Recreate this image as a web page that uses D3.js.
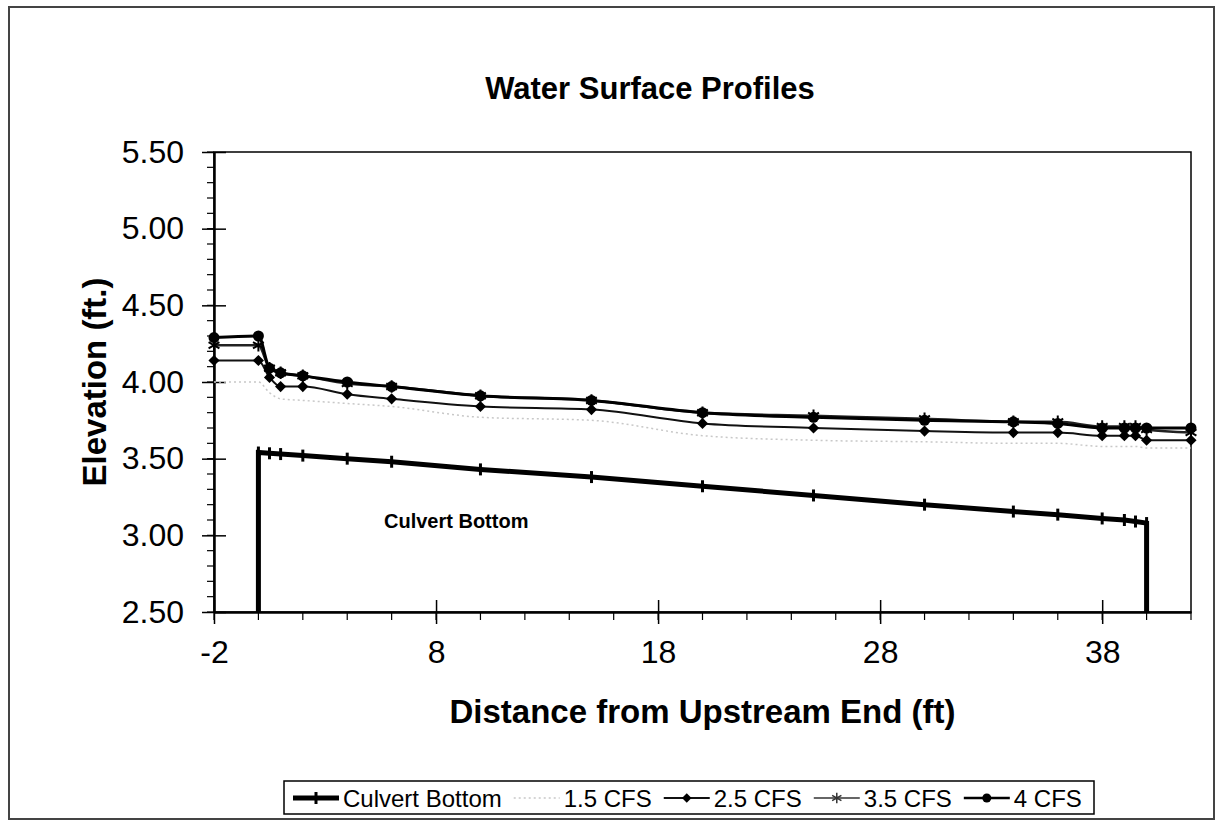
<!DOCTYPE html>
<html>
<head>
<meta charset="utf-8">
<script src="https://cdn.jsdelivr.net/npm/d3@7"></script>
<style>
  body { margin: 0; background: #fff; }
  svg { display: block; font-family: "Liberation Sans", Arial, sans-serif; }
</style>
</head>
<body>
<svg id="chart" width="1221" height="825"></svg>
<script>

// stations along the culvert (ft from upstream end)
var stations = [-2, 0, 0.5, 1, 2, 4, 6, 10, 15, 20, 25, 30, 34, 36, 38, 39, 39.5, 40, 42];

// culvert invert, incl. the vertical drops at both ends
var culvertX = [0, 0, 0.5, 1, 2, 4, 6, 10, 15, 20, 25, 30, 34, 36, 38, 39, 39.5, 40, 40];
var culvertY = [2.5, 3.54, 3.535, 3.53, 3.52, 3.50, 3.48, 3.43, 3.38, 3.32, 3.26, 3.20, 3.155, 3.135, 3.11, 3.10, 3.09, 3.08, 2.5];

var cfs15 = [4.00, 4.00, 3.93, 3.89, 3.88, 3.86, 3.84, 3.77, 3.75, 3.65, 3.62, 3.61, 3.60, 3.60, 3.58, 3.58, 3.58, 3.57, 3.57];
var cfs25 = [4.14, 4.14, 4.03, 3.97, 3.97, 3.92, 3.89, 3.84, 3.82, 3.73, 3.70, 3.68, 3.67, 3.67, 3.65, 3.65, 3.65, 3.62, 3.62];
var cfs35 = [4.24, 4.24, 4.09, 4.06, 4.04, 3.99, 3.97, 3.91, 3.88, 3.80, 3.78, 3.76, 3.74, 3.74, 3.71, 3.71, 3.71, 3.69, 3.67];
var cfs40 = [4.29, 4.30, 4.09, 4.06, 4.04, 4.00, 3.97, 3.91, 3.88, 3.80, 3.77, 3.75, 3.74, 3.73, 3.70, 3.70, 3.70, 3.70, 3.70];

var xTicks = [-2, 8, 18, 28, 38];
var yTicks = [2.5, 3.0, 3.5, 4.0, 4.5, 5.0, 5.5];
var legendNames = ["Culvert Bottom", "1.5 CFS", "2.5 CFS", "3.5 CFS", "4 CFS"];

var svg = d3.select("#chart");

// outer chart frame
svg.append("rect")
  .attr("x", 9).attr("y", 7).attr("width", 1205).attr("height", 812)
  .attr("fill", "none").attr("stroke", "#444").attr("stroke-width", 2);

var plotL = 214, plotR = 1191, plotT = 152, plotB = 612;

var x = d3.scaleLinear().domain([-2, 42]).range([plotL, plotR]);
var y = d3.scaleLinear().domain([2.5, 5.5]).range([plotB, plotT]);

// plot frame
svg.append("rect")
  .attr("x", plotL).attr("y", plotT).attr("width", plotR - plotL).attr("height", plotB - plotT)
  .attr("fill", "none").attr("stroke", "#000").attr("stroke-width", 1.5);

// y axis with minor ticks
var yMinor = d3.range(25, 56).map(function (d) { return d / 10; });
svg.append("g").selectAll("line").data(yMinor).enter().append("line")
  .attr("x1", plotL - 7).attr("x2", plotL)
  .attr("y1", function (d) { return y(d); }).attr("y2", function (d) { return y(d); })
  .attr("stroke", "#000").attr("stroke-width", 1.2);

var yAxis = svg.append("g")
  .attr("transform", "translate(" + plotL + ",0)")
  .call(d3.axisLeft(y).tickValues(yTicks).tickFormat(d3.format(".2f")).tickSizeInner(12).tickSizeOuter(0).tickPadding(18));
yAxis.select(".domain").attr("stroke-width", 2.5);
yAxis.selectAll(".tick line").attr("x2", 12).attr("x1", -12).attr("stroke-width", 1.5);
yAxis.selectAll("text").attr("font-size", 32).attr("fill", "#000")
  .attr("font-family", "Liberation Sans, Arial, sans-serif");

// x axis with minor ticks
var xMinor = d3.range(-2, 43, 2);
svg.append("g").selectAll("line").data(xMinor).enter().append("line")
  .attr("x1", function (d) { return x(d); }).attr("x2", function (d) { return x(d); })
  .attr("y1", plotB).attr("y2", plotB + 8)
  .attr("stroke", "#000").attr("stroke-width", 1.2);

var xAxis = svg.append("g")
  .attr("transform", "translate(0," + plotB + ")")
  .call(d3.axisBottom(x).tickValues(xTicks).tickFormat(function (d) { return String(d); })
    .tickSizeInner(12).tickSizeOuter(0).tickPadding(16));
xAxis.select(".domain").attr("stroke-width", 2.5);
xAxis.selectAll(".tick line").attr("y1", -12).attr("y2", 12).attr("stroke-width", 1.5);
xAxis.selectAll("text").attr("font-size", 32).attr("fill", "#000")
  .attr("font-family", "Liberation Sans, Arial, sans-serif");

// titles
svg.append("text").attr("x", 650).attr("y", 99).attr("text-anchor", "middle")
  .attr("font-size", 31).attr("font-weight", "bold").text("Water Surface Profiles");

svg.append("text").attr("x", (plotL + plotR) / 2).attr("y", 723).attr("text-anchor", "middle")
  .attr("font-size", 33).attr("font-weight", "bold").text("Distance from Upstream End (ft)");

svg.append("text")
  .attr("transform", "translate(106," + ((plotT + plotB) / 2) + ") rotate(-90)")
  .attr("text-anchor", "middle")
  .attr("font-size", 33).attr("font-weight", "bold").text("Elevation (ft.)");

// water surfaces are smoothed, culvert is straight segments
var smooth = d3.line()
  .curve(d3.curveMonotoneX)
  .x(function (d) { return x(d[0]); })
  .y(function (d) { return y(d[1]); });
var line = d3.line()
  .x(function (d) { return x(d[0]); })
  .y(function (d) { return y(d[1]); });

function pairs(xs, ys) { return xs.map(function (v, i) { return [v, ys[i]]; }); }

// square turned 45 deg, like the spreadsheet diamond
var diamond = d3.symbol(d3.symbolSquare, 62);

// 1.5 CFS, faint gray dotted
svg.append("path").datum(pairs(stations, cfs15)).attr("d", smooth)
  .attr("fill", "none").attr("stroke", "#c8c8c8").attr("stroke-width", 1.5)
  .attr("stroke-dasharray", "2,3");

// 2.5 CFS, diamonds
svg.append("path").datum(pairs(stations, cfs25)).attr("d", smooth)
  .attr("fill", "none").attr("stroke", "#111").attr("stroke-width", 2);
svg.append("g").selectAll("path").data(pairs(stations, cfs25)).enter().append("path")
  .attr("d", diamond)
  .attr("transform", function (d) { return "translate(" + x(d[0]) + "," + y(d[1]) + ") rotate(45)"; })
  .attr("fill", "#000");

// 3.5 CFS, asterisks
svg.append("path").datum(pairs(stations, cfs35)).attr("d", smooth)
  .attr("fill", "none").attr("stroke", "#222").attr("stroke-width", 2.5);
svg.append("g").selectAll("path").data(pairs(stations, cfs35)).enter().append("path")
  .attr("d", d3.symbol(d3.symbolAsterisk, 110))
  .attr("transform", function (d) { return "translate(" + x(d[0]) + "," + y(d[1]) + ")"; })
  .attr("fill", "none").attr("stroke", "#000").attr("stroke-width", 2);

// 4 CFS, circles
svg.append("path").datum(pairs(stations, cfs40)).attr("d", smooth)
  .attr("fill", "none").attr("stroke", "#000").attr("stroke-width", 3);
svg.append("g").selectAll("circle").data(pairs(stations, cfs40)).enter().append("circle")
  .attr("cx", function (d) { return x(d[0]); }).attr("cy", function (d) { return y(d[1]); })
  .attr("r", 5.5).attr("fill", "#000");

// culvert bottom, thick
svg.append("path").datum(pairs(culvertX, culvertY)).attr("d", line)
  .attr("fill", "none").attr("stroke", "#000").attr("stroke-width", 5);
svg.append("g").selectAll("line").data(pairs(culvertX, culvertY).filter(function (d) { return d[1] > 2.5; }))
  .enter().append("line")
  .attr("x1", function (d) { return x(d[0]); }).attr("x2", function (d) { return x(d[0]); })
  .attr("y1", function (d) { return y(d[1]) - 6; }).attr("y2", function (d) { return y(d[1]) + 6; })
  .attr("stroke", "#000").attr("stroke-width", 3);

svg.append("text").attr("x", 384).attr("y", 528)
  .attr("font-size", 20).attr("font-weight", "bold").text("Culvert Bottom");

// legend
var lg = svg.append("g");
lg.append("rect").attr("x", 284).attr("y", 781).attr("width", 810).attr("height", 33)
  .attr("fill", "#fff").attr("stroke", "#000").attr("stroke-width", 1.5);

var lx = 293, ly = 798;
legendNames.forEach(function (name, i) {
  var sx0 = lx, sx1 = lx + 46, mx = lx + 23;
  if (i === 0) {
    lg.append("line").attr("x1", sx0).attr("x2", sx1).attr("y1", ly).attr("y2", ly)
      .attr("stroke", "#000").attr("stroke-width", 5);
    lg.append("line").attr("x1", mx).attr("x2", mx).attr("y1", ly - 6).attr("y2", ly + 6)
      .attr("stroke", "#000").attr("stroke-width", 3);
  } else if (i === 1) {
    lg.append("line").attr("x1", sx0).attr("x2", sx1).attr("y1", ly).attr("y2", ly)
      .attr("stroke", "#c8c8c8").attr("stroke-width", 1.5).attr("stroke-dasharray", "2,3");
  } else if (i === 2) {
    lg.append("line").attr("x1", sx0).attr("x2", sx1).attr("y1", ly).attr("y2", ly)
      .attr("stroke", "#111").attr("stroke-width", 2);
    lg.append("path").attr("d", d3.symbol(d3.symbolSquare, 45))
      .attr("transform", "translate(" + mx + "," + ly + ") rotate(45)").attr("fill", "#000");
  } else if (i === 3) {
    lg.append("line").attr("x1", sx0).attr("x2", sx1).attr("y1", ly).attr("y2", ly)
      .attr("stroke", "#666").attr("stroke-width", 2);
    lg.append("path").attr("d", d3.symbol(d3.symbolAsterisk, 80))
      .attr("transform", "translate(" + mx + "," + ly + ")")
      .attr("fill", "none").attr("stroke", "#333").attr("stroke-width", 1.5);
  } else {
    lg.append("line").attr("x1", sx0).attr("x2", sx1).attr("y1", ly).attr("y2", ly)
      .attr("stroke", "#000").attr("stroke-width", 2.5);
    lg.append("circle").attr("cx", mx).attr("cy", ly).attr("r", 4.5).attr("fill", "#000");
  }
  var t = lg.append("text").attr("x", sx1 + 4).attr("y", ly + 9)
    .attr("font-size", 24).text(name);
  lx = sx1 + 4 + t.node().getComputedTextLength() + 12;
});

</script>
</body>
</html>
